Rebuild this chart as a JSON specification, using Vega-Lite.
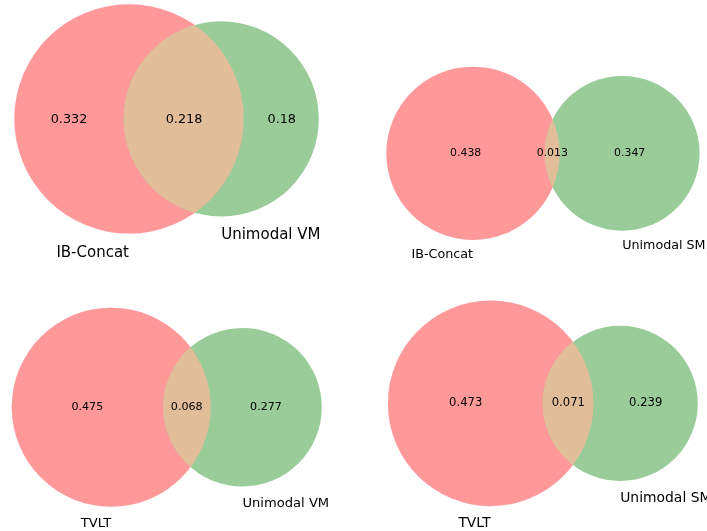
{
  "$schema": "https://vega.github.io/schema/vega-lite/v6.json",
  "padding": 0,
  "background": "white",
  "columns": 2,
  "spacing": 0,
  "bounds": "flush",
  "resolve": {"scale": {"x": "independent", "y": "independent", "size": "independent"}},
  "config": {"view": {"stroke": null}, "text": {"font": "DejaVu Sans", "color": "black"}},
  "datasets": {
    "circles": [
      {"panel": 1, "role": "A", "name": "IB-Concat", "size": 0.55, "x": -0.1653, "y": 0},
      {"panel": 1, "role": "B", "name": "Unimodal VM", "size": 0.398, "x": 0.2284, "y": 0},
      {"panel": 2, "role": "A", "name": "IB-Concat", "size": 0.451, "x": -0.3242, "y": 0},
      {"panel": 2, "role": "B", "name": "Unimodal SM", "size": 0.36, "x": 0.4061, "y": 0},
      {"panel": 3, "role": "A", "name": "TVLT", "size": 0.543, "x": -0.2354, "y": 0},
      {"panel": 3, "role": "B", "name": "Unimodal VM", "size": 0.345, "x": 0.3705, "y": 0},
      {"panel": 4, "role": "A", "name": "TVLT", "size": 0.544, "x": -0.215, "y": 0},
      {"panel": 4, "role": "B", "name": "Unimodal SM", "size": 0.31, "x": 0.3774, "y": 0}
    ],
    "setlabels": [
      {"panel": 1, "role": "A", "name": "IB-Concat", "x": -0.1653, "y": -0.4897},
      {"panel": 1, "role": "B", "name": "Unimodal VM", "x": 0.2284, "y": -0.4166},
      {"panel": 2, "role": "A", "name": "IB-Concat", "x": -0.3242, "y": -0.4241},
      {"panel": 2, "role": "B", "name": "Unimodal SM", "x": 0.4061, "y": -0.379},
      {"panel": 3, "role": "A", "name": "TVLT", "x": -0.2354, "y": -0.4591},
      {"panel": 3, "role": "B", "name": "Unimodal VM", "x": 0.3705, "y": -0.366},
      {"panel": 4, "role": "A", "name": "TVLT", "x": -0.215, "y": -0.4703},
      {"panel": 4, "role": "B", "name": "Unimodal SM", "x": 0.3774, "y": -0.355}
    ],
    "regions": [
      {"panel": 1, "region": "A only", "value": 0.332, "x": -0.4214, "y": 0},
      {"panel": 1, "region": "A and B", "value": 0.218, "x": 0.0696, "y": 0},
      {"panel": 1, "region": "B only", "value": 0.18, "x": 0.4868, "y": 0},
      {"panel": 2, "region": "A only", "value": 0.438, "x": -0.3598, "y": 0},
      {"panel": 2, "region": "A and B", "value": 0.013, "x": 0.0641, "y": 0},
      {"panel": 2, "region": "B only", "value": 0.347, "x": 0.443, "y": 0},
      {"panel": 3, "region": "A only", "value": 0.475, "x": -0.3456, "y": 0},
      {"panel": 3, "region": "A and B", "value": 0.068, "x": 0.1131, "y": 0},
      {"panel": 3, "region": "B only", "value": 0.277, "x": 0.479, "y": 0},
      {"panel": 4, "region": "A only", "value": 0.473, "x": -0.3294, "y": 0},
      {"panel": 4, "region": "A and B", "value": 0.071, "x": 0.14, "y": 0},
      {"panel": 4, "region": "B only", "value": 0.239, "x": 0.4941, "y": 0}
    ]
  },
  "concat": [
    {
      "width": 353, "height": 265,
      "encoding": {
        "x": {"field": "x", "type": "quantitative", "axis": null, "scale": {"domain": [-0.716, 0.791], "nice": false, "zero": false}},
        "y": {"field": "y", "type": "quantitative", "axis": null, "scale": {"domain": [-0.6238, 0.5077], "nice": false, "zero": false}}
      },
      "layer": [
        {"data": {"name": "circles"}, "transform": [{"filter": "datum.panel == 1 && datum.role == 'A'"}],
         "mark": {"type": "point", "shape": "circle", "filled": true, "opacity": 1, "strokeWidth": 0, "color": "#ff9999"},
         "encoding": {"size": {"field": "size", "type": "quantitative", "legend": null, "scale": {"domain": [0, 1], "range": [0, 95665]}}}},
        {"data": {"name": "circles"}, "transform": [{"filter": "datum.panel == 1 && datum.role == 'B'"}],
         "mark": {"type": "point", "shape": "circle", "filled": true, "opacity": 1, "strokeWidth": 0, "color": "#99cc99"},
         "encoding": {"size": {"field": "size", "type": "quantitative", "legend": null}}},
        {"data": {"name": "circles"}, "transform": [{"filter": "datum.panel == 1 && datum.role == 'A'"}],
         "mark": {"type": "point", "shape": "circle", "filled": true, "opacity": 1, "strokeWidth": 0, "color": "#e10000", "blend": "lighten"},
         "encoding": {"size": {"field": "size", "type": "quantitative", "legend": null}}},
        {"data": {"name": "circles"}, "transform": [{"filter": "datum.panel == 1 && datum.role == 'A'"}],
         "mark": {"type": "point", "shape": "circle", "filled": true, "opacity": 1, "strokeWidth": 0, "color": "#ffbdff", "blend": "darken"},
         "encoding": {"size": {"field": "size", "type": "quantitative", "legend": null}}},
        {"data": {"name": "regions"}, "transform": [{"filter": "datum.panel == 1"}],
         "mark": {"type": "text", "fontSize": 12.8, "align": "center", "baseline": "middle"},
         "encoding": {"text": {"field": "value", "type": "nominal"}}},
        {"data": {"name": "setlabels"}, "transform": [{"filter": "datum.panel == 1 && datum.role == 'A'"}],
         "mark": {"type": "text", "fontSize": 15, "align": "right", "baseline": "alphabetic", "dy": 23, "clip": true},
         "encoding": {"text": {"field": "name", "type": "nominal"}}},
        {"data": {"name": "setlabels"}, "transform": [{"filter": "datum.panel == 1 && datum.role == 'B'"}],
         "mark": {"type": "text", "fontSize": 15, "align": "left", "baseline": "alphabetic", "dy": 23, "clip": true},
         "encoding": {"text": {"field": "name", "type": "nominal"}}}
      ]
    },
    {
      "width": 354, "height": 265,
      "encoding": {
        "x": {"field": "x", "type": "quantitative", "axis": null, "scale": {"domain": [-0.9114, 0.8213], "nice": false, "zero": false}},
        "y": {"field": "y", "type": "quantitative", "axis": null, "scale": {"domain": [-0.5467, 0.7504], "nice": false, "zero": false}}
      },
      "layer": [
        {"data": {"name": "circles"}, "transform": [{"filter": "datum.panel == 2 && datum.role == 'A'"}],
         "mark": {"type": "point", "shape": "circle", "filled": true, "opacity": 1, "strokeWidth": 0, "color": "#ff9999"},
         "encoding": {"size": {"field": "size", "type": "quantitative", "legend": null, "scale": {"domain": [0, 1], "range": [0, 66596]}}}},
        {"data": {"name": "circles"}, "transform": [{"filter": "datum.panel == 2 && datum.role == 'B'"}],
         "mark": {"type": "point", "shape": "circle", "filled": true, "opacity": 1, "strokeWidth": 0, "color": "#99cc99"},
         "encoding": {"size": {"field": "size", "type": "quantitative", "legend": null}}},
        {"data": {"name": "circles"}, "transform": [{"filter": "datum.panel == 2 && datum.role == 'A'"}],
         "mark": {"type": "point", "shape": "circle", "filled": true, "opacity": 1, "strokeWidth": 0, "color": "#e10000", "blend": "lighten"},
         "encoding": {"size": {"field": "size", "type": "quantitative", "legend": null}}},
        {"data": {"name": "circles"}, "transform": [{"filter": "datum.panel == 2 && datum.role == 'A'"}],
         "mark": {"type": "point", "shape": "circle", "filled": true, "opacity": 1, "strokeWidth": 0, "color": "#ffbdff", "blend": "darken"},
         "encoding": {"size": {"field": "size", "type": "quantitative", "legend": null}}},
        {"data": {"name": "regions"}, "transform": [{"filter": "datum.panel == 2"}],
         "mark": {"type": "text", "fontSize": 10.9, "align": "center", "baseline": "middle"},
         "encoding": {"text": {"field": "value", "type": "nominal"}}},
        {"data": {"name": "setlabels"}, "transform": [{"filter": "datum.panel == 2 && datum.role == 'A'"}],
         "mark": {"type": "text", "fontSize": 12.7, "align": "right", "baseline": "alphabetic", "dy": 18.5, "clip": true},
         "encoding": {"text": {"field": "name", "type": "nominal"}}},
        {"data": {"name": "setlabels"}, "transform": [{"filter": "datum.panel == 2 && datum.role == 'B'"}],
         "mark": {"type": "text", "fontSize": 12.7, "align": "left", "baseline": "alphabetic", "dy": 18.5, "clip": true},
         "encoding": {"text": {"field": "name", "type": "nominal"}}}
      ]
    },
    {
      "width": 353, "height": 266,
      "encoding": {
        "x": {"field": "x", "type": "quantitative", "axis": null, "scale": {"domain": [-0.7485, 0.8805], "nice": false, "zero": false}},
        "y": {"field": "y", "type": "quantitative", "axis": null, "scale": {"domain": [-0.5713, 0.6562], "nice": false, "zero": false}}
      },
      "layer": [
        {"data": {"name": "circles"}, "transform": [{"filter": "datum.panel == 3 && datum.role == 'A'"}],
         "mark": {"type": "point", "shape": "circle", "filled": true, "opacity": 1, "strokeWidth": 0, "color": "#ff9999"},
         "encoding": {"size": {"field": "size", "type": "quantitative", "legend": null, "scale": {"domain": [0, 1], "range": [0, 72914]}}}},
        {"data": {"name": "circles"}, "transform": [{"filter": "datum.panel == 3 && datum.role == 'B'"}],
         "mark": {"type": "point", "shape": "circle", "filled": true, "opacity": 1, "strokeWidth": 0, "color": "#99cc99"},
         "encoding": {"size": {"field": "size", "type": "quantitative", "legend": null}}},
        {"data": {"name": "circles"}, "transform": [{"filter": "datum.panel == 3 && datum.role == 'A'"}],
         "mark": {"type": "point", "shape": "circle", "filled": true, "opacity": 1, "strokeWidth": 0, "color": "#e10000", "blend": "lighten"},
         "encoding": {"size": {"field": "size", "type": "quantitative", "legend": null}}},
        {"data": {"name": "circles"}, "transform": [{"filter": "datum.panel == 3 && datum.role == 'A'"}],
         "mark": {"type": "point", "shape": "circle", "filled": true, "opacity": 1, "strokeWidth": 0, "color": "#ffbdff", "blend": "darken"},
         "encoding": {"size": {"field": "size", "type": "quantitative", "legend": null}}},
        {"data": {"name": "regions"}, "transform": [{"filter": "datum.panel == 3"}],
         "mark": {"type": "text", "fontSize": 11.1, "align": "center", "baseline": "middle"},
         "encoding": {"text": {"field": "value", "type": "nominal"}}},
        {"data": {"name": "setlabels"}, "transform": [{"filter": "datum.panel == 3 && datum.role == 'A'"}],
         "mark": {"type": "text", "fontSize": 13.1, "align": "right", "baseline": "alphabetic", "dy": 20, "clip": true},
         "encoding": {"text": {"field": "name", "type": "nominal"}}},
        {"data": {"name": "setlabels"}, "transform": [{"filter": "datum.panel == 3 && datum.role == 'B'"}],
         "mark": {"type": "text", "fontSize": 13.1, "align": "left", "baseline": "alphabetic", "dy": 20, "clip": true},
         "encoding": {"text": {"field": "name", "type": "nominal"}}}
      ]
    },
    {
      "width": 354, "height": 266,
      "encoding": {
        "x": {"field": "x", "type": "quantitative", "axis": null, "scale": {"domain": [-0.8449, 0.7745], "nice": false, "zero": false}},
        "y": {"field": "y", "type": "quantitative", "axis": null, "scale": {"domain": [-0.5837, 0.6331], "nice": false, "zero": false}}
      },
      "layer": [
        {"data": {"name": "circles"}, "transform": [{"filter": "datum.panel == 4 && datum.role == 'A'"}],
         "mark": {"type": "point", "shape": "circle", "filled": true, "opacity": 1, "strokeWidth": 0, "color": "#ff9999"},
         "encoding": {"size": {"field": "size", "type": "quantitative", "legend": null, "scale": {"domain": [0, 1], "range": [0, 77705]}}}},
        {"data": {"name": "circles"}, "transform": [{"filter": "datum.panel == 4 && datum.role == 'B'"}],
         "mark": {"type": "point", "shape": "circle", "filled": true, "opacity": 1, "strokeWidth": 0, "color": "#99cc99"},
         "encoding": {"size": {"field": "size", "type": "quantitative", "legend": null}}},
        {"data": {"name": "circles"}, "transform": [{"filter": "datum.panel == 4 && datum.role == 'A'"}],
         "mark": {"type": "point", "shape": "circle", "filled": true, "opacity": 1, "strokeWidth": 0, "color": "#e10000", "blend": "lighten"},
         "encoding": {"size": {"field": "size", "type": "quantitative", "legend": null}}},
        {"data": {"name": "circles"}, "transform": [{"filter": "datum.panel == 4 && datum.role == 'A'"}],
         "mark": {"type": "point", "shape": "circle", "filled": true, "opacity": 1, "strokeWidth": 0, "color": "#ffbdff", "blend": "darken"},
         "encoding": {"size": {"field": "size", "type": "quantitative", "legend": null}}},
        {"data": {"name": "regions"}, "transform": [{"filter": "datum.panel == 4"}],
         "mark": {"type": "text", "fontSize": 11.6, "align": "center", "baseline": "middle"},
         "encoding": {"text": {"field": "value", "type": "nominal"}}},
        {"data": {"name": "setlabels"}, "transform": [{"filter": "datum.panel == 4 && datum.role == 'A'"}],
         "mark": {"type": "text", "fontSize": 13.9, "align": "right", "baseline": "alphabetic", "dy": 20.7, "clip": true},
         "encoding": {"text": {"field": "name", "type": "nominal"}}},
        {"data": {"name": "setlabels"}, "transform": [{"filter": "datum.panel == 4 && datum.role == 'B'"}],
         "mark": {"type": "text", "fontSize": 13.9, "align": "left", "baseline": "alphabetic", "dy": 20.7, "clip": true},
         "encoding": {"text": {"field": "name", "type": "nominal"}}}
      ]
    }
  ]
}
